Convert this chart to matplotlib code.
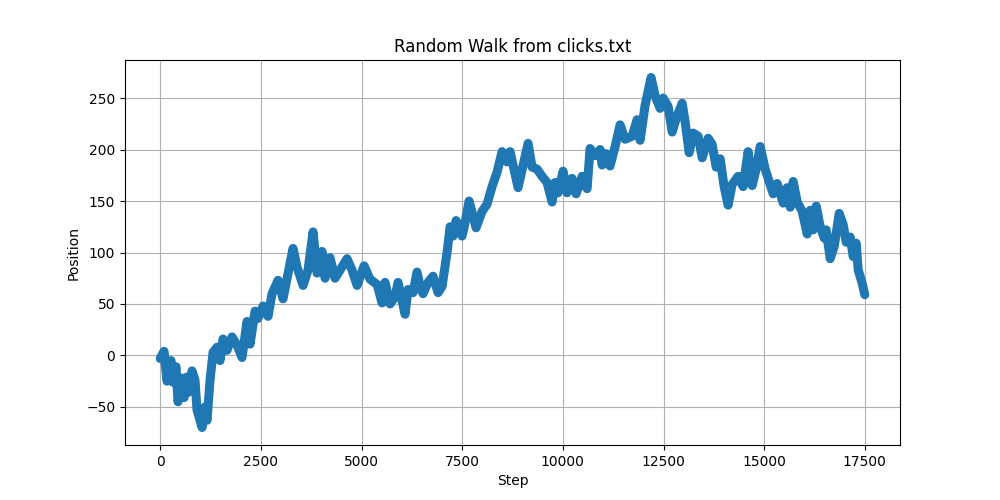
import matplotlib
matplotlib.use("Agg")
import matplotlib.pyplot as plt

steps = [0, 94, 169, 268, 318, 392, 442, 541, 591, 666, 691, 790, 864, 914, 1040,
         1113, 1163, 1237, 1312, 1411, 1485, 1560, 1659, 1783, 1908, 2032, 2156,
         2231, 2355, 2429, 2554, 2678, 2777, 2926, 3050, 3299, 3398, 3547, 3671,
         3796, 3895, 4019, 4094, 4218, 4342, 4516, 4640, 4764, 4889, 5063, 5212,
         5386, 5510, 5584, 5709, 5833, 5907, 6081, 6155, 6280, 6379, 6454, 6528,
         6652, 6776, 6900, 7000, 7124, 7199, 7273, 7348, 7497, 7571, 7671, 7845,
         7994, 8118, 8242, 8366, 8490, 8615, 8689, 8888, 9136, 9236, 9360, 9484,
         9608, 9733, 9807, 9882, 10006, 10105, 10229, 10329, 10478, 10602, 10677,
         10801, 10925, 10975, 11074, 11173, 11298, 11422, 11546, 11720, 11844,
         11919, 12043, 12192, 12292, 12416, 12491, 12615, 12715, 12814, 12963,
         13037, 13137, 13236, 13360, 13460, 13609, 13708, 13807, 13907, 14006,
         14105, 14205, 14354, 14478, 14602, 14702, 14801, 14901, 15025, 15224,
         15324, 15473, 15572, 15647, 15721, 15821, 15945, 16069, 16144, 16218,
         16293, 16392, 16492, 16541, 16640, 16740, 16864, 16963, 17038, 17137,
         17212, 17286, 17336, 17435, 17499]

positions = [-3, 4, -25, -5, -26, -11, -45, -22, -41, -21, -36, -15, -24, -53, -70,
             -50, -63, -24, 3, 8, -5, 16, 5, 18, 10, -2, 33,
             11, 43, 36, 48, 38, 60, 73, 55, 104, 86, 68, 83,
             120, 80, 101, 75, 95, 75, 86, 94, 83, 68, 87, 74,
             69, 51, 71, 50, 57, 71, 40, 64, 61, 81, 67, 60,
             71, 77, 61, 67, 100, 125, 116, 131, 116, 129, 150, 124,
             140, 147, 164, 178, 198, 188, 198, 163, 206, 183, 181, 174,
             168, 149, 168, 158, 179, 158, 172, 157, 174, 162, 201,
             194, 200, 185, 196, 184, 203, 224, 210, 213, 229,
             209, 243, 270, 252, 240, 250, 242, 217, 230, 245,
             227, 197, 216, 213, 192, 211, 205, 183, 191, 164,
             146, 166, 174, 164, 198, 165, 181, 203, 181, 157,
             167, 148, 163, 144, 169, 149, 140, 118, 141, 122,
             145, 125, 114, 122, 94, 106, 138, 127, 110, 115,
             96, 109, 83, 70, 59]

fig, ax = plt.subplots(figsize=(10, 5), dpi=100)
ax.plot(steps, positions, color="#1f77b4", linewidth=6.5,
        solid_capstyle="round", solid_joinstyle="round")
ax.set_title("Random Walk from clicks.txt")
ax.set_xlabel("Step")
ax.set_ylabel("Position")
ax.grid(True)
fig.savefig("out.png", dpi=100)
